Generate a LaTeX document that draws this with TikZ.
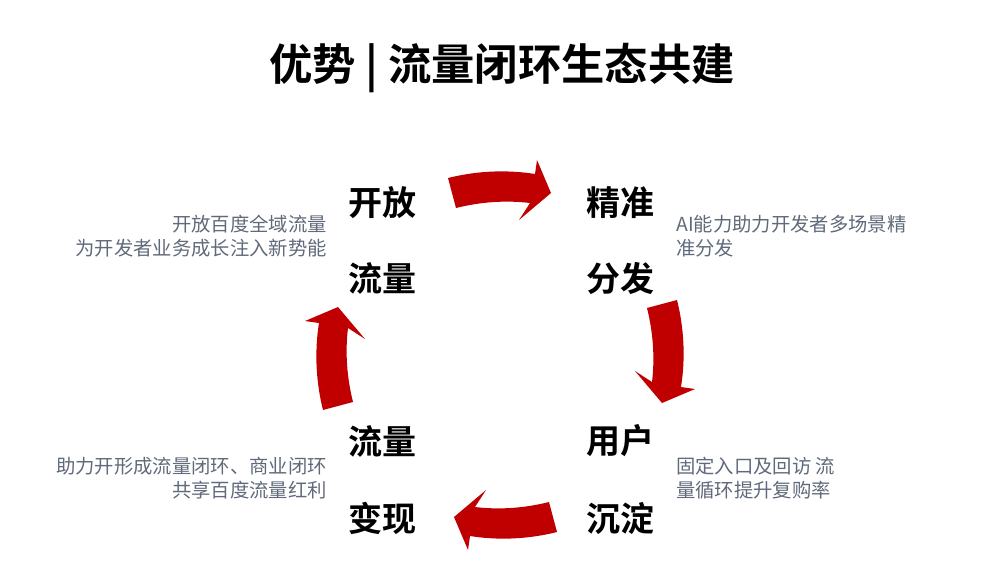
\documentclass[tikz,border=0pt]{standalone}
\usepackage{fontspec}
\setmainfont{Noto Sans CJK SC}
\newfontfamily\cjkb{Noto Sans CJK SC Bold}
\definecolor{arrred}{RGB}{192,0,0}
\definecolor{desc}{RGB}{96,106,122}
\begin{document}
\begin{tikzpicture}[x=0.75pt,y=-0.75pt,
  big/.style={font=\cjkb\fontsize{25.5}{28}\selectfont,inner sep=0},
  dsc/.style={font=\fontsize{14.5}{18}\selectfont,text=desc,inner sep=0,align=left},
  dscr/.style={dsc,align=right},
  barrow/.style={fill=arrred}]
\useasboundingbox (0,0) rectangle (1002,562);
\def\blockarrow{(-52,-14) .. controls (-20,-22) and (10,-22) .. (35,-18) -- (37,-32) -- (51,1) -- (19,28) -- (30,11) .. controls (5,8) and (-20,10) .. (-44,16) -- cycle}
\node[font=\cjkb\fontsize{32.5}{36}\selectfont] (title) at (502,68) {优势 | 流量闭环生态共建};
\node[big] (a1) at (382,203) {开放};
\node[big] (a2) at (382,278) {流量};
\node[big] (b1) at (620,203) {精准};
\node[big] (b2) at (620,278) {分发};
\node[big] (c1) at (620,441) {用户};
\node[big] (c2) at (620,518) {沉淀};
\node[big] (d1) at (382,441) {流量};
\node[big] (d2) at (382,518) {变现};
\node[dscr,anchor=east] (ta) at (327,236) {开放百度全域流量\\为开发者业务成长注入新势能};
\node[dsc,anchor=west] (tb) at (676,236) {AI能力助力开发者多场景精\\准分发};
\node[dsc,anchor=west] (tc) at (676,478) {固定入口及回访 流\\量循环提升复购率};
\node[dscr,anchor=east] (td) at (327,478) {助力开形成流量闭环、商业闭环\\共享百度流量红利};
\fill[barrow,shift={(500,192)}] \blockarrow;
\fill[barrow,shift={(663,352)},rotate=-90] \blockarrow;
\fill[barrow,shift={(505,518)},rotate=180] \blockarrow;
\fill[barrow,shift={(337,358)},rotate=90] \blockarrow;
\end{tikzpicture}
\end{document}
